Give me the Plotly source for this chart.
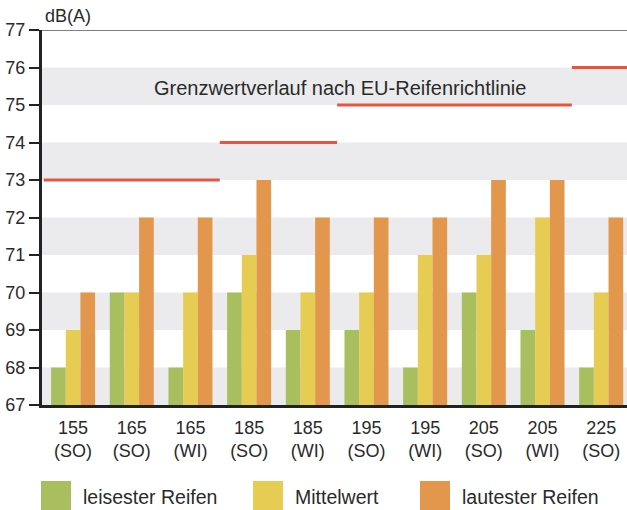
import plotly.graph_objects as go

# Tyre sizes (SO = summer, WI = winter)
sizes = ["155<br>(SO)", "165<br>(SO)", "165<br>(WI)", "185<br>(SO)", "185<br>(WI)",
         "195<br>(SO)", "195<br>(WI)", "205<br>(SO)", "205<br>(WI)", "225<br>(SO)"]
quietest = [68, 70, 68, 70, 69, 69, 68, 70, 69, 68]
average = [69, 70, 70, 71, 70, 70, 71, 71, 72, 70]
loudest = [70, 72, 72, 73, 72, 72, 72, 73, 73, 72]
eu_limit = [73, 73, 73, 74, 74, 75, 75, 75, 75, 76]

series_names = ["leisester Reifen", "Mittelwert", "lautester Reifen"]
series_values = [quietest, average, loudest]
colors = ["#A8BE5F", "#E6CC52", "#E2974C"]
limit_color = "#E8553E"
band_color = "#EBEBED"
text_color = "#2A2A2A"
FONT = "Liberation Sans"

y_ticks = list(range(67, 78))
x_pos = list(range(len(sizes)))
x_range = [-0.53, 9.44]

fig = go.Figure()

for name, vals, col in zip(series_names, series_values, colors):
    fig.add_trace(go.Bar(x=x_pos, y=vals, name=name, marker_color=col,
                         marker_line_width=0, showlegend=False))

# EU limit steps: one segment per tyre size, joined where equal
lx, ly = [], []
i = 0
while i < len(eu_limit):
    j = i
    while j + 1 < len(eu_limit) and eu_limit[j + 1] == eu_limit[i]:
        j += 1
    x0 = max(i - 0.5, x_range[0])
    x1 = min(j + 0.5, x_range[1])
    lx += [x0, x1, None]
    ly += [eu_limit[i], eu_limit[i], None]
    i = j + 1
fig.add_trace(go.Scatter(x=lx, y=ly, mode="lines", showlegend=False,
                         line=dict(color=limit_color, width=3), hoverinfo="skip"))

shapes = []
# alternating grey bands behind the bars
for lo in y_ticks[:-1:2]:
    shapes.append(dict(type="rect", xref="paper", x0=0, x1=1, yref="y", y0=lo, y1=lo + 1,
                       fillcolor=band_color, line_width=0, layer="below"))
# top frame line
shapes.append(dict(type="line", xref="paper", x0=0, x1=1, yref="y", y0=77, y1=77,
                   line=dict(color="#555555", width=1.5)))

annotations = [
    dict(text="dB(A)", xref="paper", yref="paper", x=0, y=1, xanchor="left", yanchor="bottom",
         xshift=1, yshift=2, showarrow=False, font=dict(family=FONT, size=18, color=text_color)),
    dict(text="Grenzwertverlauf nach EU-Reifenrichtlinie", xref="x", yref="y", x=4.55, y=75.5,
         yshift=-2, showarrow=False, font=dict(family=FONT, size=20, color=text_color)),
]

# custom legend with large swatches
plot_w, plot_h, left, top = 585, 375, 42, 30
def px_x(px):
    return (px - left) / plot_w
def px_y(py):
    return (top + plot_h - py) / plot_h

swatch_x = [41, 253, 420]
for sx, name, col in zip(swatch_x, series_names, colors):
    shapes.append(dict(type="rect", xref="paper", yref="paper",
                       x0=px_x(sx), x1=px_x(sx + 30), y0=px_y(481), y1=px_y(510),
                       fillcolor=col, line_width=0))
    annotations.append(dict(text=name, xref="paper", yref="paper", x=px_x(sx + 40), y=px_y(497),
                            xanchor="left", yanchor="middle", showarrow=False,
                            font=dict(family=FONT, size=19.5, color=text_color)))

fig.update_layout(
    width=627, height=510,
    margin=dict(l=left, r=0, t=top, b=105),
    plot_bgcolor="white", paper_bgcolor="white",
    barmode="group", bargap=0.25, bargroupgap=0,
    shapes=shapes, annotations=annotations,
    font=dict(family=FONT, size=17, color=text_color),
    xaxis=dict(range=x_range, tickvals=x_pos, ticktext=sizes, showgrid=False, zeroline=False,
               showline=True, linecolor="#222222", linewidth=3, ticks="", fixedrange=True,
               ticklabelstandoff=4,
               tickfont=dict(family=FONT, size=18, color=text_color)),
    yaxis=dict(range=[67, 77], tickvals=y_ticks, showgrid=False, zeroline=False,
               showline=True, linecolor="#222222", linewidth=3, ticks="outside", ticklen=10,
               tickwidth=2, tickcolor="#222222",
               tickfont=dict(family=FONT, size=18, color=text_color)),
)

fig.write_html("out.html")
